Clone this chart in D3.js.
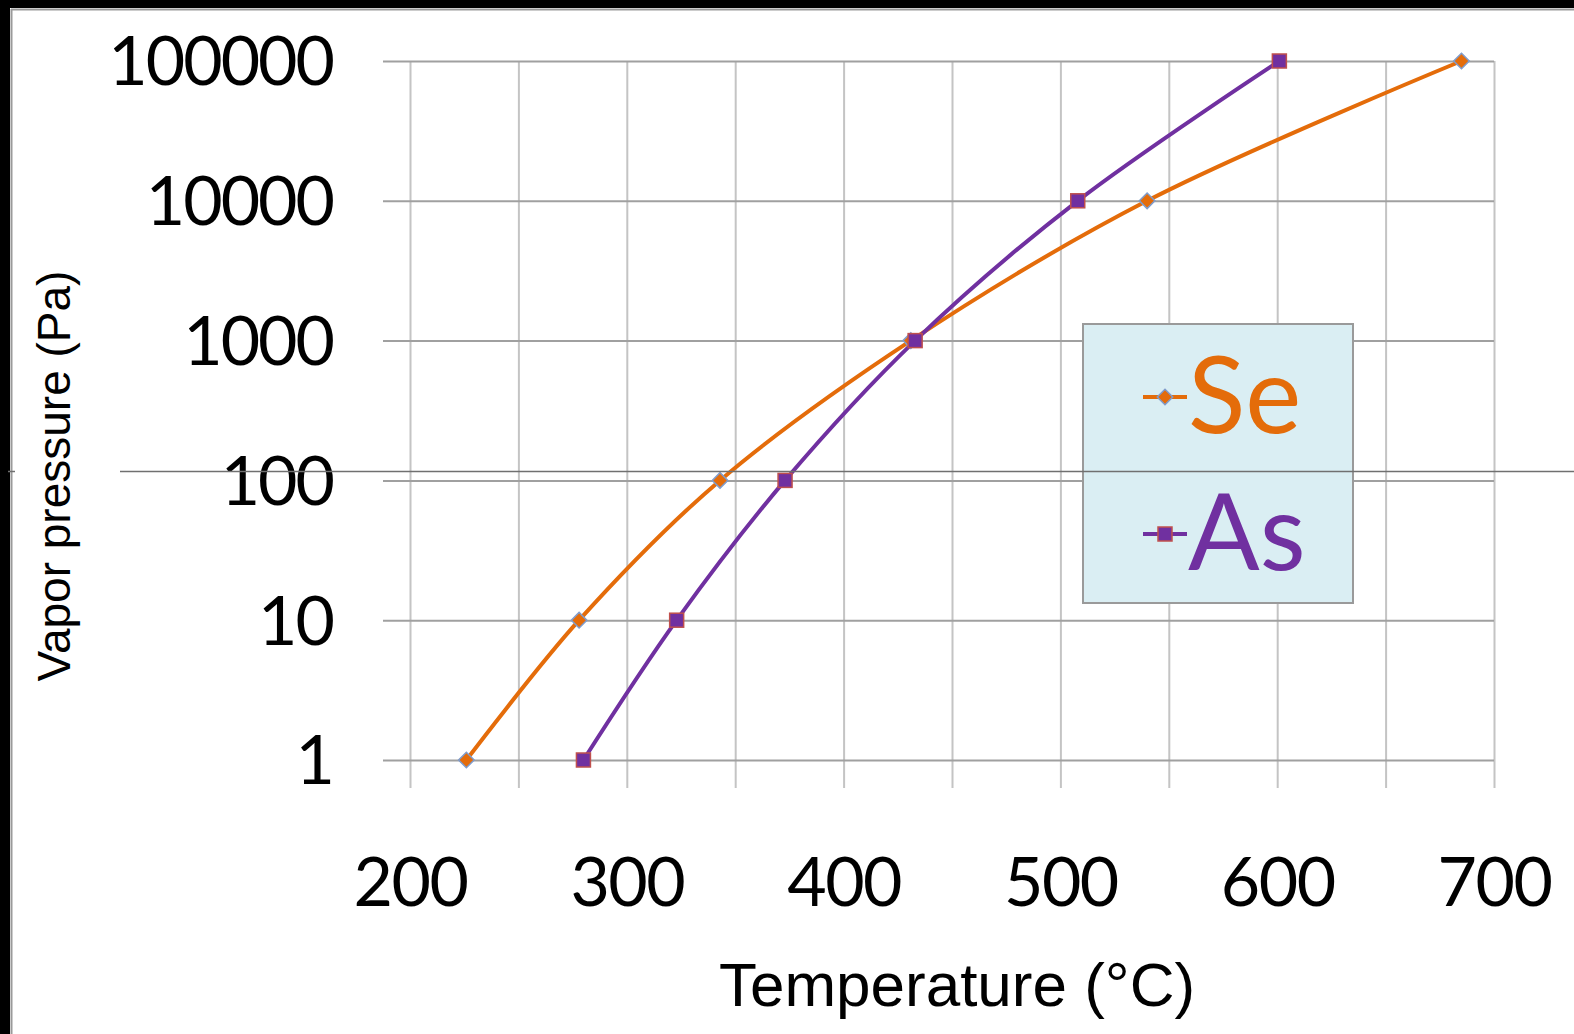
<!DOCTYPE html>
<html>
<head>
<meta charset="utf-8">
<script src="https://cdn.jsdelivr.net/npm/d3@7"></script>
<style>
  body { margin: 0; background: #000; }
  svg { display: block; }
</style>
</head>
<body>
<div id="chart"></div>
<script>
// data (temperature in °C at each pressure step)
var pressures = [1, 10, 100, 1000, 10000, 100000];
var seTemps = [226, 278, 343, 431, 540, 685];
var asTemps = [280, 323, 373, 433, 508, 601];
var xTicks = [200, 300, 400, 500, 600, 700];
var xGrid = [200, 250, 300, 350, 400, 450, 500, 550, 600, 650, 700];
var seriesNames = ["Se", "As"];

var W = 1574, H = 1034;
// plot box (can't call it "top", that's window.top)
var plot = {left: 410, right: 1494, top: 61, bottom: 760};

var svg = d3.select("#chart").append("svg")
    .attr("width", W)
    .attr("height", H);

// black frame top/left, then white page
svg.append("rect").attr("width", W).attr("height", H).attr("fill", "#000");
svg.append("rect").attr("x", 10).attr("y", 8).attr("width", W - 10).attr("height", H - 8).attr("fill", "#fff");
svg.append("line").attr("x1", 11.5).attr("x2", 11.5).attr("y1", 9).attr("y2", H).attr("stroke", "#9a9a9a").attr("stroke-width", 2);
svg.append("line").attr("x1", 11).attr("x2", W).attr("y1", 9.5).attr("y2", 9.5).attr("stroke", "#9a9a9a").attr("stroke-width", 2);

var x = d3.scaleLinear().domain([200, 700]).range([plot.left, plot.right]);
var y = d3.scaleLog().domain([1, 100000]).range([plot.bottom, plot.top]);

// vertical grid + tick marks below
svg.append("g")
    .attr("class", "xgrid")
    .attr("transform", "translate(0," + (plot.bottom + 28) + ")")
    .call(d3.axisBottom(x).tickValues(xGrid).tickSize(-(plot.bottom + 28 - plot.top)).tickFormat(""))
    .call(g => g.select(".domain").remove())
    .call(g => g.selectAll("line").attr("stroke", "#c4c4c4").attr("stroke-width", 2));

// horizontal grid + tick marks left
svg.append("g")
    .attr("class", "ygrid")
    .attr("transform", "translate(" + (plot.left - 27) + ",0)")
    .call(d3.axisLeft(y).tickValues(pressures).tickSize(-(plot.right - plot.left + 27)).tickFormat(""))
    .call(g => g.select(".domain").remove())
    .call(g => g.selectAll("line").attr("stroke", "#a0a0a0").attr("stroke-width", 2));

// x labels
svg.append("g")
    .attr("transform", "translate(0," + plot.bottom + ")")
    .call(d3.axisBottom(x).tickValues(xTicks).tickSize(0).tickPadding(98).tickFormat(d3.format("d")))
    .call(g => g.select(".domain").remove())
    .selectAll("text")
    .attr("fill", "#000")
    .attr("font-family", "Lato, 'Open Sans', sans-serif")
    .attr("font-size", 68)
    .attr("letter-spacing", -1.5);

// y labels
svg.append("g")
    .attr("transform", "translate(" + plot.left + ",0)")
    .call(d3.axisLeft(y).tickValues(pressures).tickSize(0).tickPadding(77).tickFormat(d3.format("d")))
    .call(g => g.select(".domain").remove())
    .selectAll("text")
    .attr("fill", "#000")
    .attr("font-family", "Lato, 'Open Sans', sans-serif")
    .attr("font-size", 68)
    .attr("letter-spacing", -2)
    .attr("dy", "0.35em");

// axis titles
svg.append("text")
    .attr("x", 957).attr("y", 1006)
    .attr("text-anchor", "middle")
    .attr("font-family", "'Liberation Sans', Arial, sans-serif")
    .attr("font-size", 62)
    .text("Temperature (°C)");

svg.append("text")
    .attr("transform", "translate(70,476) rotate(-90)")
    .attr("text-anchor", "middle")
    .attr("font-family", "'Liberation Sans', Arial, sans-serif")
    .attr("font-size", 46)
    .text("Vapor pressure (Pa)");

// lines
var line = d3.line()
    .x(d => x(d.t))
    .y(d => y(d.p))
    .curve(d3.curveCatmullRom.alpha(0.5));

var seData = pressures.map((p, i) => ({p: p, t: seTemps[i]}));
var asData = pressures.map((p, i) => ({p: p, t: asTemps[i]}));

svg.append("path").datum(seData).attr("d", line)
    .attr("fill", "none").attr("stroke", "#e46c0a").attr("stroke-width", 4);
svg.append("path").datum(asData).attr("d", line)
    .attr("fill", "none").attr("stroke", "#7030a0").attr("stroke-width", 4);

// markers
svg.selectAll(".se-pt").data(seData).enter().append("rect")
    .attr("class", "se-pt")
    .attr("x", -5.5).attr("y", -5.5).attr("width", 11).attr("height", 11)
    .attr("transform", d => "translate(" + x(d.t) + "," + y(d.p) + ") rotate(45)")
    .attr("fill", "#e46c0a").attr("stroke", "#7f9ccc").attr("stroke-width", 1.5);

svg.selectAll(".as-pt").data(asData).enter().append("rect")
    .attr("class", "as-pt")
    .attr("x", d => x(d.t) - 7).attr("y", d => y(d.p) - 7)
    .attr("width", 14).attr("height", 14)
    .attr("fill", "#7030a0").attr("stroke", "#c0504d").attr("stroke-width", 1.5);

// legend
var lg = svg.append("g");
lg.append("rect")
    .attr("x", 1083).attr("y", 324).attr("width", 270).attr("height", 279)
    .attr("fill", "#daeef3").attr("stroke", "#9a9a9a").attr("stroke-width", 2);

var legColors = ["#e46c0a", "#7030a0"];
var legY = [397, 534];
seriesNames.forEach(function(name, i) {
    lg.append("line")
        .attr("x1", 1143).attr("x2", 1187).attr("y1", legY[i]).attr("y2", legY[i])
        .attr("stroke", legColors[i]).attr("stroke-width", 4);
    if (i === 0) {
        lg.append("rect")
            .attr("x", -5.5).attr("y", -5.5).attr("width", 11).attr("height", 11)
            .attr("transform", "translate(1165," + legY[i] + ") rotate(45)")
            .attr("fill", legColors[i]).attr("stroke", "#7f9ccc").attr("stroke-width", 1.5);
    } else {
        lg.append("rect")
            .attr("x", 1158).attr("y", legY[i] - 7).attr("width", 14).attr("height", 14)
            .attr("fill", legColors[i]).attr("stroke", "#c0504d").attr("stroke-width", 1.5);
    }
    lg.append("text")
        .attr("x", 1188).attr("y", legY[i] + 36)
        .attr("font-family", "Lato, 'Open Sans', sans-serif")
        .attr("font-size", 106)
        .attr("fill", legColors[i])
        .text(name);
});

// stray horizontal rule across the slide
svg.append("line").attr("x1", 120).attr("x2", W).attr("y1", 471.5).attr("y2", 471.5)
    .attr("stroke", "#707070").attr("stroke-width", 1.5);
svg.append("line").attr("x1", 8).attr("x2", 15).attr("y1", 471.5).attr("y2", 471.5)
    .attr("stroke", "#707070").attr("stroke-width", 1.5);
</script>
</body>
</html>
